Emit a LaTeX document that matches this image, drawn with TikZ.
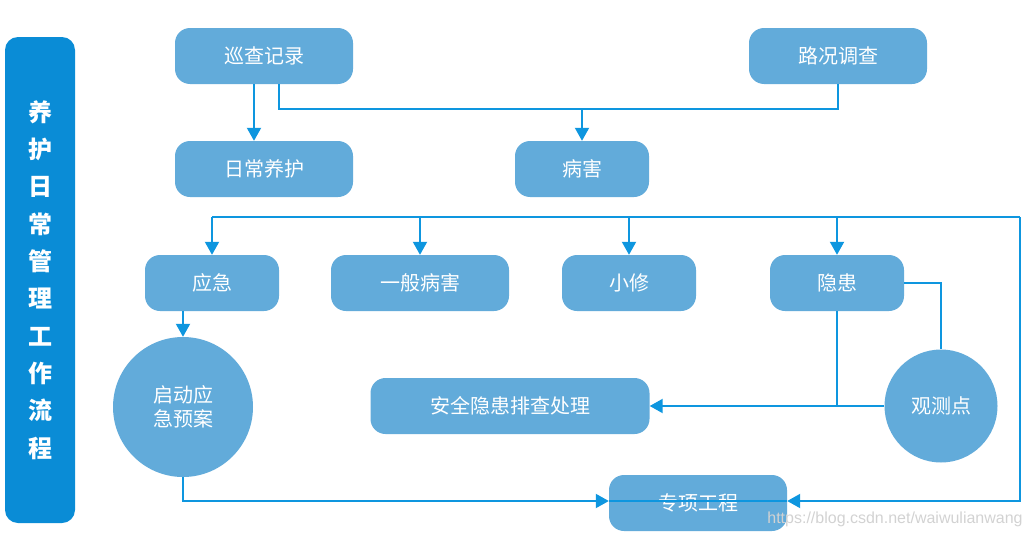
\documentclass[tikz,border=0pt]{standalone}
\usepackage{fontspec}
\newfontfamily\cjk{Noto Sans CJK SC}
\setsansfont{Liberation Sans}
\usetikzlibrary{arrows.meta}
\definecolor{nodefill}{RGB}{98,171,218}
\definecolor{linec}{RGB}{14,150,223}
\definecolor{sidec}{RGB}{10,140,214}
\begin{document}
\begin{tikzpicture}[x=1pt,y=-1pt,
  box/.style={draw=none, fill=nodefill, rounded corners=15pt, minimum width=178pt, minimum height=56pt, inner sep=0pt, text=white, font=\cjk\fontsize{20}{22}\selectfont},
  sbox/.style={box, minimum width=134pt},
  wbox/.style={box, minimum width=279pt},
  disc/.style={circle, draw=none, fill=nodefill, inner sep=0pt, text=white, align=center, font=\cjk\fontsize{20}{24}\selectfont},
  conn/.style={draw=linec, line width=2pt},
  arr/.style={conn, -{Triangle[length=13pt,width=14pt]}},
  side/.style={draw=none, fill=sidec, rounded corners=13pt, minimum width=70pt, minimum height=486pt, inner sep=0pt, text=white, align=center, font=\cjk\bfseries\fontsize{24}{37.3}\selectfont}
]
\useasboundingbox (0,0) rectangle (1033,538);
\node[side] (sd) at (40,280) {养\\护\\日\\常\\管\\理\\工\\作\\流\\程};

\node[box] (xc) at (264,56) {巡查记录};
\node[box] (lk) at (838,56) {路况调查};
\node[box] (rc) at (264,169) {日常养护};
\node[sbox] (bh) at (582,169) {病害};
\node[sbox] (yj) at (212,283) {应急};
\node[box] (yb) at (420,283) {一般病害};
\node[sbox] (xx) at (629,283) {小修};
\node[sbox] (yh) at (837,283) {隐患};
\node[disc, minimum size=140pt] (qd) at (183,407) {启动应\\急预案};
\node[wbox] (aq) at (510,406) {安全隐患排查处理};
\node[disc, minimum size=113pt] (gc) at (941,406) {观测点};
\node[box] (zx) at (698,503) {专项工程};

\coordinate (j1) at (582,109);
\coordinate (busL) at (212,217);
\coordinate (busR) at (1020,217);

% top connectors
\draw[arr] ([xshift=-10pt]xc.south) -- ([xshift=-10pt]rc.north);
\draw[conn] ([xshift=15pt]xc.south) |- (j1) -| (lk.south);
\draw[arr] (j1) -- (bh.north);

% bus
\draw[conn] (busL) -- (busR);
\draw[arr] (busL) -- (yj.north);
\draw[arr] (yb.north |- busL) -- (yb.north);
\draw[arr] (xx.north |- busL) -- (xx.north);
\draw[arr] (yh.north |- busL) -- (yh.north);
\draw[arr] (busR) |- ([yshift=2pt]zx.east);

% emergency
\draw[arr] (qd.north |- yj.south) -- (qd.north);
\draw[arr] (qd.south) |- ([yshift=2pt]zx.west);
\draw[conn, line width=1.5pt] ([yshift=2pt]zx.west) -- ([yshift=2pt]zx.east);

% hidden danger
\draw[arr] (yh.south) |- (aq.east);
\draw[conn] (yh.east) -| (gc.north);
\draw[conn] (gc.west) -- (yh.south |- gc.west);

\node[text=gray!35, font=\sffamily\fontsize{16}{18}\selectfont, inner sep=0pt] (wm) at (895,519) {https://blog.csdn.net/waiwulianwang};
\end{tikzpicture}
\end{document}
